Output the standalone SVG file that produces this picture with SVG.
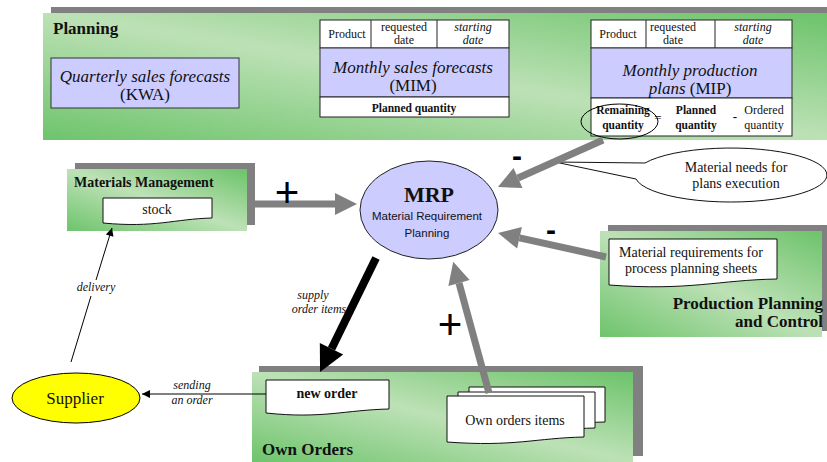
<svg xmlns="http://www.w3.org/2000/svg" width="827" height="462" viewBox="0 0 827 462">
  <defs>
    <linearGradient id="panelGreen" x1="1" y1="0" x2="0" y2="1">
      <stop offset="0" stop-color="#6cc36a"/>
      <stop offset="0.5" stop-color="#bde1b6"/>
      <stop offset="1" stop-color="#6ec46c"/>
    </linearGradient>
    <marker id="headGray" markerUnits="userSpaceOnUse" orient="auto" refX="0" refY="0" markerWidth="30" markerHeight="30" overflow="visible">
      <path d="M0,-11 L22,0 L0,11 Z" fill="#808080"/>
    </marker>
    <marker id="headBlack" markerUnits="userSpaceOnUse" orient="auto" refX="0" refY="0" markerWidth="30" markerHeight="30" overflow="visible">
      <path d="M0,-13 L26,0 L0,13 Z" fill="#000"/>
    </marker>
    <marker id="headThin" markerUnits="userSpaceOnUse" orient="auto" refX="8" refY="0" markerWidth="12" markerHeight="12" overflow="visible">
      <path d="M0,-4 L8,0 L0,4 Z" fill="#000"/>
    </marker>
  </defs>
  <style>
    .shadow { fill: #808080; }
    .panel { fill: url(#panelGreen); }
    .box { fill: #ccccff; stroke: #333; stroke-width: 1; }
    .cell { fill: #fff; stroke: #222; stroke-width: 1; }
    .doc { fill: #fff; stroke: #111; stroke-width: 1; }
    .serif { font-family: "Liberation Serif", "Times New Roman", serif; fill: #111; }
    .sans { font-family: "Liberation Sans", Arial, sans-serif; fill: #111; }
    .title { font-weight: bold; font-size: 17px; }
    .c { text-anchor: middle; }
    .hdr { font-size: 12px; }
    .qty { font-size: 11.5px; }
    .big { font-size: 17px; font-style: italic; }
    .lab { font-size: 12px; font-style: italic; }
    .thick { stroke: #808080; stroke-width: 7; fill: none; marker-end: url(#headGray); }
    .sign { font-family: "Liberation Sans", Arial, sans-serif; font-size: 42px; fill: #000; text-anchor: middle; }
    .minus { font-family: "Liberation Sans", Arial, sans-serif; font-size: 30px; font-weight: bold; fill: #000; text-anchor: middle; }
  </style>

  <!-- Planning area -->
  <g id="planning">
    <rect class="shadow" x="51" y="7" width="790" height="127"/>
    <rect class="panel" x="43" y="13" width="790" height="127"/>
    <text class="serif title" x="53" y="34">Planning</text>
  </g>

  <g id="kwa">
    <rect class="box" x="51" y="58" width="188" height="50"/>
    <text class="serif c big" x="145" y="82">Quarterly sales forecasts</text>
    <text class="serif c" x="145" y="100" font-size="17">(KWA)</text>
  </g>

  <g id="mim">
    <rect class="cell" x="320" y="20" width="189" height="28"/>
    <line x1="371" y1="20" x2="371" y2="48" stroke="#222"/>
    <line x1="437" y1="20" x2="437" y2="48" stroke="#222"/>
    <rect class="box" x="320" y="48" width="189" height="49" stroke="#222"/>
    <rect class="cell" x="320" y="97" width="189" height="20"/>
    <text class="serif c hdr" x="347" y="38">Product</text>
    <text class="serif c hdr" x="404" y="31">requested</text>
    <text class="serif c hdr" x="404" y="44">date</text>
    <text class="serif c hdr" x="473" y="31" font-style="italic">starting</text>
    <text class="serif c hdr" x="473" y="44" font-style="italic">date</text>
    <text class="serif c big" x="413" y="73">Monthly sales forecasts</text>
    <text class="serif c" x="413" y="91" font-size="17">(MIM)</text>
    <text class="serif c qty" x="414" y="112" font-weight="bold">Planned quantity</text>
  </g>

  <g id="mip">
    <rect class="cell" x="591" y="20" width="201" height="28"/>
    <line x1="646" y1="20" x2="646" y2="48" stroke="#222"/>
    <line x1="715" y1="20" x2="715" y2="48" stroke="#222"/>
    <rect class="box" x="591" y="48" width="201" height="50" stroke="#222"/>
    <rect class="cell" x="591" y="98" width="201" height="38"/>
    <text class="serif c hdr" x="618" y="38">Product</text>
    <text class="serif c hdr" x="673" y="31">requested</text>
    <text class="serif c hdr" x="673" y="44">date</text>
    <text class="serif c hdr" x="753" y="31" font-style="italic">starting</text>
    <text class="serif c hdr" x="753" y="44" font-style="italic">date</text>
    <text class="serif c big" x="690" y="76">Monthly production</text>
    <text class="serif c" x="690" y="94" font-size="17"><tspan font-style="italic">plans</tspan> (MIP)</text>
    <text class="serif c qty" x="623" y="114" font-weight="bold">Remaining</text>
    <text class="serif c qty" x="623" y="129" font-weight="bold">quantity</text>
    <text class="serif c" x="658" y="122" font-size="13">=</text>
    <text class="serif c qty" x="696" y="114" font-weight="bold">Planned</text>
    <text class="serif c qty" x="696" y="129" font-weight="bold">quantity</text>
    <text class="serif c" x="735" y="121" font-size="13" font-weight="bold">-</text>
    <text class="serif c hdr" x="764" y="114">Ordered</text>
    <text class="serif c hdr" x="764" y="129">quantity</text>
    <ellipse cx="619.5" cy="121.5" rx="38.5" ry="17.5" fill="none" stroke="#000" stroke-width="1"/>
  </g>

  <!-- Materials Management -->
  <g id="materials-management">
    <rect class="shadow" x="75" y="163" width="180" height="62"/>
    <rect class="panel" x="67" y="169" width="180" height="62"/>
    <text class="serif" x="74" y="187" font-size="14" font-weight="bold">Materials Management</text>
  </g>
  <g id="stock">
    <path class="doc" d="M103,198 H212 V218 C174,219 155,228 103,223 Z"/>
    <text class="serif c" x="157" y="214" font-size="14">stock</text>
  </g>

  <!-- Production Planning and Control -->
  <g id="production-planning">
    <rect class="shadow" x="608" y="225" width="225" height="106"/>
    <rect class="panel" x="600" y="231" width="222" height="106"/>
    <text class="serif" x="823" y="309" font-size="17" font-weight="bold" text-anchor="end">Production Planning</text>
    <text class="serif" x="823" y="327" font-size="17" font-weight="bold" text-anchor="end">and Control</text>
  </g>
  <g id="process-sheets">
    <path class="doc" d="M609,239 H777 V279 C718,280 690,291 609,285 Z"/>
    <text class="serif c" x="691" y="257" font-size="14">Material requirements  for</text>
    <text class="serif c" x="691" y="273" font-size="14">process planning  sheets</text>
  </g>

  <!-- Own Orders -->
  <g id="own-orders">
    <rect class="shadow" x="259" y="366" width="384" height="90"/>
    <rect class="panel" x="252" y="372" width="381" height="90"/>
    <text class="serif title" x="262" y="455">Own Orders</text>
  </g>
  <g id="new-order">
    <path class="doc" d="M266,380 H389 V409 C345,410 322,419 266,413 Z"/>
    <text class="serif c" x="327" y="398" font-size="14" font-weight="bold">new order</text>
  </g>
  <g id="own-orders-items">
    <path class="doc" d="M469,387 H605 V422 C557,423 535,431 469,426 Z"/>
    <path class="doc" d="M458,392 H595 V428 C547,429 525,437 458,432 Z"/>
    <path class="doc" d="M447,396 H584 V437 C536,438 514,447 447,442 Z"/>
    <text class="serif c" x="515" y="425" font-size="14">Own orders items</text>
  </g>

  <!-- MRP -->
  <g id="mrp">
    <ellipse cx="429" cy="210" rx="69" ry="49" fill="#ccccff" stroke="#222" stroke-width="1"/>
    <text class="serif c" x="429" y="202" font-size="22" font-weight="bold">MRP</text>
    <text class="sans c" x="427" y="220" font-size="11.5">Material Requirement</text>
    <text class="sans c" x="427" y="237" font-size="11.5">Planning</text>
  </g>

  <!-- Supplier -->
  <g id="supplier">
    <ellipse cx="76" cy="398" rx="64" ry="25" fill="#ffff00" stroke="#000" stroke-width="1"/>
    <text class="serif c" x="75" y="404" font-size="17">Supplier</text>
  </g>

  <!-- Callout -->
  <g id="material-needs">
    <path d="M645,163 L555,162 L636,179 A96,27 0 1 0 645,163 Z" fill="#fff" stroke="#111" stroke-width="1"/>
    <text class="serif c" x="736" y="172" font-size="14">Material needs for</text>
    <text class="serif c" x="736" y="188" font-size="14">plans execution</text>
  </g>

  <!-- Connectors -->
  <g id="connectors">
    <line class="thick" x1="247" y1="204" x2="335" y2="204"/>
    <line class="thick" x1="603" y1="140" x2="518" y2="178"/>
    <line class="thick" x1="606" y1="257" x2="519.5" y2="237.8"/>
    <line class="thick" x1="489" y1="393" x2="459" y2="283"/>
    <line x1="376" y1="258" x2="331.5" y2="348.7" stroke="#000" stroke-width="8" marker-end="url(#headBlack)"/>

    <line x1="266" y1="394" x2="142" y2="394" stroke="#000" stroke-width="1" marker-end="url(#headThin)"/>
    <line x1="71" y1="362" x2="91" y2="296" stroke="#000" stroke-width="1"/>
    <line x1="96" y1="280" x2="112" y2="228" stroke="#000" stroke-width="1" marker-end="url(#headThin)"/>

    <text class="sign" x="287" y="207">+</text>
    <text class="sign" x="450" y="339">+</text>
    <text class="minus" x="517" y="166">-</text>
    <text class="minus" x="551" y="240">-</text>

    <text class="serif c lab" x="313" y="299">supply</text>
    <text class="serif c lab" x="319" y="313">order items</text>
    <text class="serif c lab" x="96" y="291">delivery</text>
    <text class="serif c lab" x="192" y="389">sending</text>
    <text class="serif c lab" x="192" y="404">an order</text>
  </g>
</svg>
